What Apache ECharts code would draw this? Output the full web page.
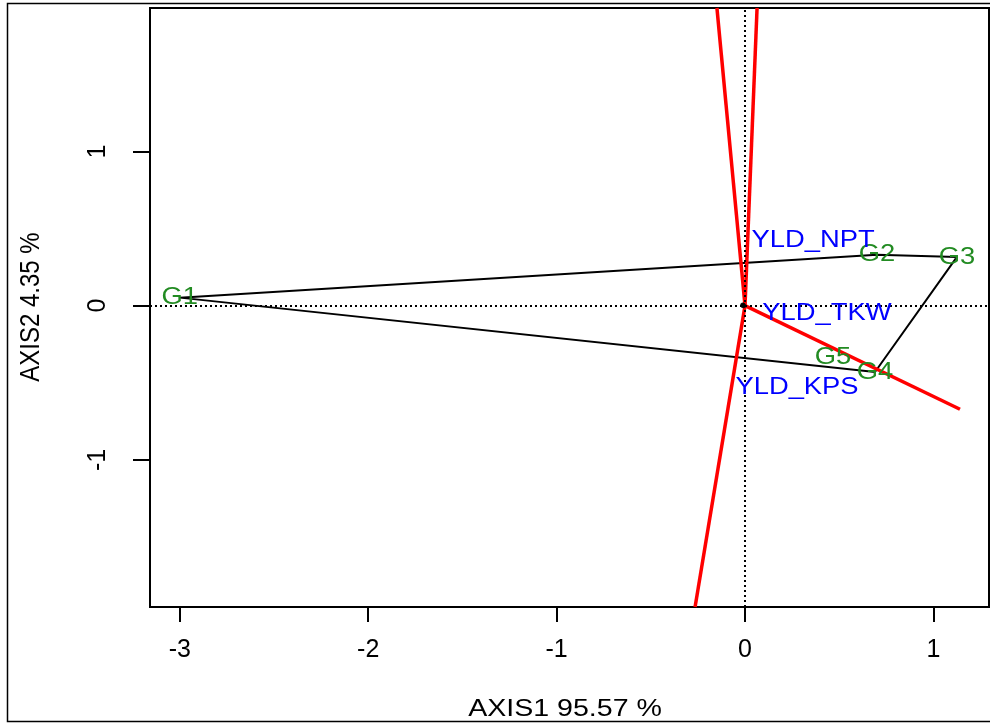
<!DOCTYPE html>
<html>
<head>
<meta charset="utf-8">
<title>GGE biplot</title>
<script src="https://cdn.jsdelivr.net/npm/echarts@6/dist/echarts.min.js"></script>
<style>
    html, body { margin: 0; padding: 0; background: #fff; }
    #chart { width: 990px; height: 724px; }
</style>
</head>
<body>
<div id="chart"></div>
<script>
// genotype scores on AXIS1 / AXIS2
var genoNames = ['G1', 'G2', 'G3', 'G4', 'G5'];
var genoX = [-3.00, 0.70, 1.125, 0.69, 0.467];
var genoY = [0.052, 0.33, 0.316, -0.43, -0.333];
// polygon (convex hull) vertex order
var hullOrder = [0, 1, 2, 3, 0];

// environment markers (near origin) and where their names sit
var envNames = ['YLD_NPT', 'YLD_TKW', 'YLD_KPS'];
var envPtX = [-0.012, -0.010, -0.008];
var envPtY = [0.004, 0.002, 0.000];
var envX = [0.361, 0.435, 0.276];
var envY = [0.426, -0.047, -0.527];

// rays from origin, perpendicular to polygon sides
var rayX = [-0.149, 0.064, -0.265, 1.141];
var rayY = [1.93, 1.93, -1.954, -0.672];

var xTicks = [-3, -2, -1, 0, 1];
var yTicks = [-1, 0, 1];
var xRange = [-3.158, 1.295];
var yRange = [-1.954, 1.93];

var FONT = '"Liberation Sans", Arial, sans-serif';

function labelSeries(names, xs, ys, color) {
    return {
        type: 'custom',
        coordinateSystem: 'cartesian2d',
        silent: true,
        z: 10,
        data: names.map(function (n, i) { return [xs[i], ys[i], i]; }),
        encode: { x: 0, y: 1 },
        renderItem: function (params, api) {
            var p = api.coord([api.value(0), api.value(1)]);
            return {
                type: 'text',
                x: p[0],
                y: p[1],
                scaleX: 1.14,
                style: {
                    text: names[api.value(2)],
                    fill: color,
                    fontSize: 24,
                    fontFamily: FONT,
                    align: 'center',
                    verticalAlign: 'middle'
                }
            };
        }
    };
}

var chart = echarts.init(document.getElementById('chart'));

var option = {
    animation: false,
    grid: {
        left: 150,
        right: 1,
        top: 8,
        bottom: 117,
        show: true,
        borderColor: '#000',
        borderWidth: 2,
        backgroundColor: 'transparent'
    },
    xAxis: {
        type: 'value',
        min: xRange[0],
        max: xRange[1],
        position: 'bottom',
        axisLine: { show: false, onZero: false },
        splitLine: { show: false },
        axisTick: {
            show: true,
            inside: false,
            length: 15,
            customValues: xTicks,
            lineStyle: { color: '#000', width: 2 }
        },
        axisLabel: {
            customValues: xTicks,
            margin: 31,
            color: '#000',
            fontSize: 25,
            fontFamily: FONT
        }
    },
    yAxis: {
        type: 'value',
        min: yRange[0],
        max: yRange[1],
        position: 'left',
        axisLine: { show: false, onZero: false },
        splitLine: { show: false },
        axisTick: {
            show: true,
            inside: false,
            length: 17,
            customValues: yTicks,
            lineStyle: { color: '#000', width: 2 }
        },
        axisLabel: {
            customValues: yTicks,
            rotate: 90,
            margin: 39,
            color: '#000',
            fontSize: 25,
            fontFamily: FONT
        }
    },
    graphic: [
        {
            type: 'rect',
            silent: true,
            shape: { x: 7.5, y: 3.5, width: 1000, height: 718 },
            style: { fill: 'none', stroke: '#000', lineWidth: 1.5 }
        },
        {
            type: 'text',
            silent: true,
            x: 565,
            y: 709,
            scaleX: 1.19,
            style: {
                text: 'AXIS1 95.57 %',
                fill: '#000',
                fontSize: 24,
                fontFamily: FONT,
                align: 'center',
                verticalAlign: 'middle'
            }
        },
        {
            type: 'text',
            silent: true,
            x: 31,
            y: 307,
            rotation: Math.PI / 2,
            scaleY: 1.17,
            style: {
                text: 'AXIS2 4.35 %',
                fill: '#000',
                fontSize: 24,
                fontFamily: FONT,
                align: 'center',
                verticalAlign: 'middle'
            }
        }
    ],
    series: [
        {
            type: 'line',
            name: 'polygon',
            silent: true,
            z: 2,
            showSymbol: false,
            data: hullOrder.map(function (i) { return [genoX[i], genoY[i]]; }),
            lineStyle: { color: '#000', width: 2 },
            markLine: {
                silent: true,
                symbol: ['none', 'none'],
                label: { show: false },
                lineStyle: { color: '#000', width: 2, type: [2, 3] },
                data: [{ xAxis: 0 }, { yAxis: 0 }]
            }
        },
        {
            type: 'lines',
            name: 'rays',
            coordinateSystem: 'cartesian2d',
            silent: true,
            z: 3,
            data: rayX.map(function (x, i) {
                return { coords: [[0, 0], [x, rayY[i]]] };
            }),
            lineStyle: { color: '#ff0000', width: 3.5, opacity: 1 }
        },
        {
            type: 'scatter',
            name: 'env',
            silent: true,
            z: 4,
            symbol: 'circle',
            symbolSize: 5,
            itemStyle: { color: '#000' },
            data: envPtX.map(function (x, i) { return [x, envPtY[i]]; })
        },
        labelSeries(genoNames, genoX, genoY, '#228B22'),
        labelSeries(envNames, envX, envY, '#0000ff')
    ]
};

chart.setOption(option);
</script>
</body>
</html>
